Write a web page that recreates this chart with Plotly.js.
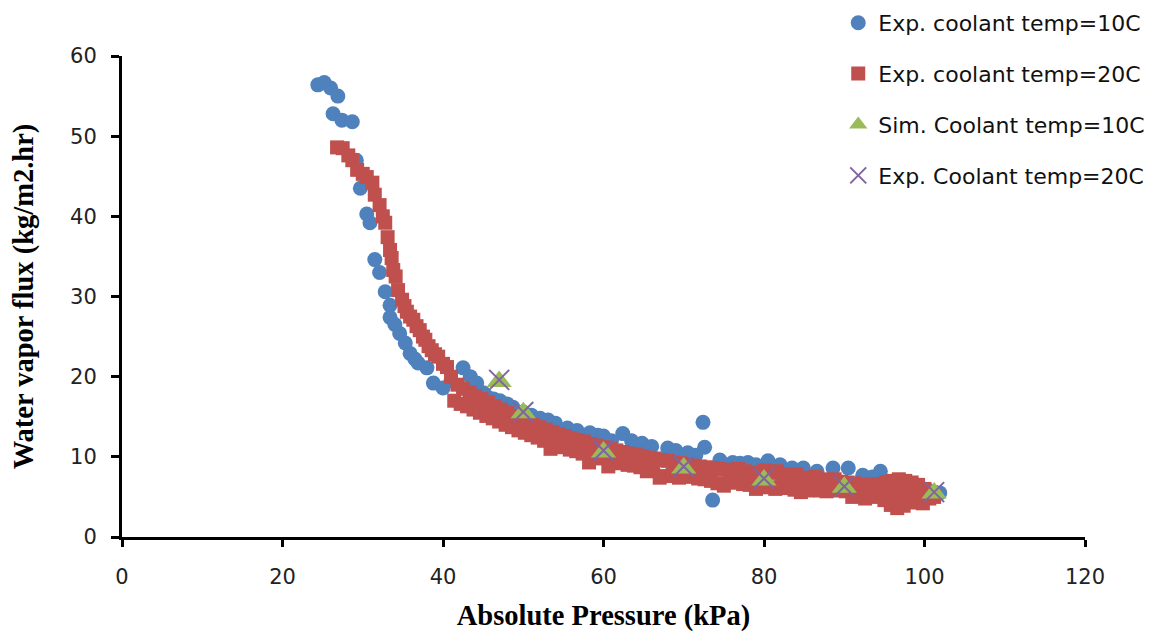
<!DOCTYPE html>
<html>
<head>
<meta charset="utf-8">
<script src="https://cdn.plot.ly/plotly-3.0.1.min.js"></script>
<style>html,body{margin:0;padding:0;background:#fff;}#chart{width:1153px;height:632px;}</style>
</head>
<body>
<div id="chart"></div>
<script>
// Exp. coolant temp = 10C
var exp10X = [24.4,25.2,26.0,26.9,26.3,27.4,28.7,29.2,29.7,30.5,30.9,31.5,32.1,32.8,33.4,33.4,34.0,34.6,35.3,35.9,36.5,36.9,38.0,38.8,40.0,41.0,42.5,43.4,44.2,45.0,45.5,46.3,47.1,48.0,48.7,50.0,51.0,52.1,53.1,54.0,55.5,56.7,58.3,59.3,60.0,61.0,62.4,63.5,64.8,66.0,68.0,69.0,70.5,71.5,72.4,72.6,73.6,74.5,76.1,77.0,78.0,79.0,80.5,82.0,83.5,84.9,86.6,88.6,90.5,92.3,93.5,94.5,96.0,97.5,99.0,100.5,101.9];
var exp10Y = [56.4,56.7,56.0,55.0,52.8,52.0,51.8,47.0,43.5,40.3,39.2,34.6,33.0,30.6,28.9,27.4,26.5,25.4,24.2,22.9,22.2,21.7,21.1,19.2,18.6,19.5,21.1,20.0,19.2,18.0,17.5,17.2,17.0,16.6,16.2,15.6,15.2,14.8,14.6,14.2,13.6,13.3,13.0,12.7,12.6,12.0,12.9,12.0,11.7,11.3,11.1,10.8,10.5,10.2,14.3,11.2,4.6,9.6,9.3,9.2,9.3,9.0,9.5,9.0,8.6,8.6,8.2,8.6,8.6,7.7,7.5,8.2,6.8,6.5,6.0,5.8,5.5];

// Exp. coolant temp = 20C
var exp20X = [26.8,27.5,28.2,28.7,29.3,30.0,30.5,31.2,31.5,32.1,32.5,32.8,33.1,33.4,33.6,33.8,34.1,34.4,34.9,35.2,35.5,35.9,36.3,36.7,37.1,37.5,37.8,38.2,38.6,39.0,39.4,40.0,40.5,
  41.0,41.8,42.5,43.3,44.0,44.8,45.6,46.4,47.2,48.0,48.8,49.6,50.4,51.2,52.0,52.8,53.6,54.4,55.2,56.0,56.8,57.6,58.4,59.2,60.0,60.8,61.6,62.4,63.2,64.0,64.8,65.6,66.4,67.2,68.0,68.8,69.6,70.4,71.2,72.0,72.8,73.6,74.4,75.2,76.0,76.8,77.6,78.4,79.2,80.0,80.8,81.6,82.4,83.2,84.0,84.8,85.6,86.4,87.2,88.0,88.8,89.6,90.4,91.2,92.0,92.8,93.6,94.4,95.2,96.0,96.8,97.6,98.4,99.2,100.0,100.8,
  41.4,42.2,43.0,43.8,44.6,45.4,46.2,47.0,47.8,48.6,49.4,50.2,51.0,51.8,52.6,53.4,54.2,55.0,55.8,56.6,57.4,58.2,59.0,59.8,60.6,61.4,62.2,63.0,63.8,64.6,65.4,66.2,67.0,67.8,68.6,69.4,70.2,71.0,71.8,72.6,73.4,74.2,75.0,75.8,76.6,77.4,78.2,79.0,79.8,80.6,81.4,82.2,83.0,83.8,84.6,85.4,86.2,87.0,87.8,88.6,89.4,90.2,91.0,91.8,92.6,93.4,94.2,95.0,95.8,96.6,97.4,98.2,99.0,99.8,100.6,101.2,
  95.5,96.3,97.1,97.9,98.7,99.5];
var exp20Y = [48.6,48.5,47.6,47.0,45.8,45.3,44.9,44.2,42.7,41.4,40.0,39.2,37.4,35.8,34.8,33.3,32.5,30.8,29.6,28.8,28.1,27.5,27.1,26.3,25.8,25.0,24.6,23.8,23.3,22.8,22.5,21.6,21.2,
  20.0,19.0,18.5,18.0,17.6,17.2,16.8,16.3,15.9,15.5,15.1,14.7,14.4,14.0,13.7,13.4,13.1,12.8,12.6,12.3,12.1,11.9,11.6,11.4,11.2,11.0,10.8,10.6,10.4,10.3,10.1,9.9,9.8,9.6,9.5,9.3,9.2,9.0,8.9,8.8,8.7,8.6,8.5,8.4,8.3,8.5,8.2,8.0,7.9,8.3,8.0,8.2,7.8,7.6,7.8,7.4,7.3,7.5,7.2,7.0,7.2,6.9,6.8,6.7,6.5,6.4,6.6,6.3,6.8,7.0,7.2,7.0,6.8,6.5,6.0,5.6,
  17.0,16.6,16.3,15.9,15.5,15.1,14.8,14.4,14.0,13.7,13.3,13.0,12.7,12.4,12.0,11.0,11.4,11.2,10.9,10.7,10.4,9.3,10.0,9.8,8.8,9.4,9.2,9.0,8.9,8.7,8.2,8.4,7.4,7.6,7.8,7.4,7.6,7.5,7.3,7.2,7.0,6.7,6.4,6.8,6.8,6.6,6.5,6.0,6.3,6.2,6.0,6.3,6.1,5.9,5.6,5.8,6.0,5.8,5.7,5.8,5.9,5.7,5.0,5.3,4.8,5.2,5.0,4.6,4.0,3.6,3.9,4.3,4.6,4.2,4.8,5.0,
  5.5,5.8,5.2,5.6,5.8,5.2];

// Simulation, coolant temp = 10C
var sim10X = [47, 50, 60, 70, 80, 90, 101.2];
var sim10Y = [19.4, 15.5, 10.6, 8.6, 7.1, 6.2, 5.5];

// Exp. Coolant temp = 20C (cross markers)
var expC20X = [47, 50, 60, 70, 80, 90, 101.2];
var expC20Y = [19.6, 15.6, 10.8, 8.8, 7.3, 6.3, 5.6];

var names = ["Exp. coolant temp=10C", "Exp. coolant temp=20C", "Sim. Coolant temp=10C", "Exp. Coolant temp=20C"];

var traces = [
  {x: exp10X, y: exp10Y, name: names[0], legendgroup: "a", type: "scatter", mode: "markers",
   marker: {symbol: "circle", size: 15, color: "#4F81BD"}},
  {x: exp20X, y: exp20Y, name: names[1], legendgroup: "b", type: "scatter", mode: "markers",
   marker: {symbol: "square", size: 14, color: "#C0504D"}},
  {x: sim10X, y: sim10Y, name: names[2], legendgroup: "c", type: "scatter", mode: "markers",
   marker: {symbol: "triangle-up", size: 22, color: "#9BBB59"}},
  {x: expC20X, y: expC20Y, name: names[3], legendgroup: "d", type: "scatter", mode: "markers",
   marker: {symbol: "x-thin-open", size: 20, color: "#8064A2", line: {color: "#8064A2", width: 2}}}
];

var sansFamily = "'DejaVu Sans', 'Open Sans', sans-serif";
var tickFont = {family: sansFamily, size: 21, color: "#222"};
var titleFont = {family: "'Liberation Serif', 'Times New Roman', serif", size: 28.5, color: "#000", weight: "bold"};

var layout = {
  width: 1153, height: 632,
  margin: {l: 122, r: 68, t: 56, b: 95, autoexpand: false},
  paper_bgcolor: "#fff", plot_bgcolor: "#fff",
  showlegend: true,
  legend: {
    xref: "container", yref: "container",
    x: 0.727, y: 0.997, xanchor: "left", yanchor: "top",
    font: {family: sansFamily, size: 22, color: "#111"},
    tracegroupgap: 19.3, traceorder: "grouped",
    bgcolor: "rgba(0,0,0,0)", itemsizing: "trace"
  },
  xaxis: {
    range: [0, 120], dtick: 20, tick0: 0,
    showgrid: false, zeroline: false,
    showline: true, linecolor: "#000", linewidth: 3,
    ticks: "outside", ticklen: 7, tickwidth: 3, tickcolor: "#000",
    tickfont: tickFont, ticklabelstandoff: 12,
    title: {text: "<b>Absolute Pressure (kPa)</b>", font: titleFont, standoff: 19}
  },
  yaxis: {
    range: [0, 60], dtick: 10, tick0: 0,
    showgrid: false, zeroline: false,
    showline: true, linecolor: "#000", linewidth: 3,
    ticks: "outside", ticklen: 8, tickwidth: 3, tickcolor: "#000",
    tickfont: tickFont, ticklabelstandoff: 10,
    title: {text: "<b>Water vapor flux (kg/m2.hr)</b>", font: titleFont, standoff: 29}
  }
};

Plotly.newPlot("chart", traces, layout, {displayModeBar: false, staticPlot: true});
</script>
</body>
</html>
